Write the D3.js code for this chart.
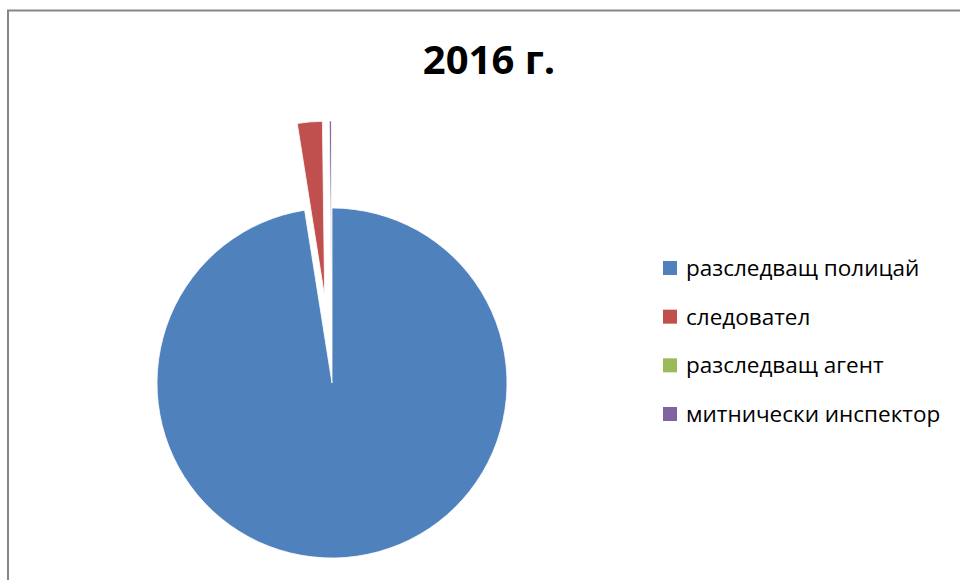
<!DOCTYPE html>
<html>
<head>
<meta charset="utf-8">
<script src="https://cdn.jsdelivr.net/npm/d3@7"></script>
<style>
  body { margin: 0; background: #fff; }
  svg { display: block; }
</style>
</head>
<body>
<div id="chart"></div>
<script>
// dades
const categories = ["разследващ полицай", "следовател", "разследващ агент", "митнически инспектор"];
const values = [97.5, 2.3, 0, 0.2];
const colors = ["#4F81BD", "#C0504D", "#9BBB59", "#8064A2"];
const explode = [0, 87, 0, 87];
const title = "2016 г.";

const width = 960, height = 580;
const cx = 332, cy = 383, radius = 175;

const svg = d3.select("#chart")
    .append("svg")
        .attr("width", width)
        .attr("height", height);

// marc del gràfic
svg.append("rect")
    .attr("x", 8)
    .attr("y", 10.5)
    .attr("width", width)
    .attr("height", height)
    .attr("fill", "none")
    .attr("stroke", "#868686")
    .attr("stroke-width", 2);

// títol
svg.append("text")
    .attr("x", 489)
    .attr("y", 74)
    .attr("text-anchor", "middle")
    .style("font-family", "'Open Sans', sans-serif")
    .style("font-weight", "bold")
    .style("font-size", "40px")
    .text(title);

const pie = d3.pie().sort(null).value(d => d.value);
const arc = d3.arc().innerRadius(0).outerRadius(radius);

const data = categories.map((c, i) => ({name: c, value: values[i], color: colors[i], explode: explode[i]}));

const g = svg.append("g")
    .attr("transform", `translate(${cx}, ${cy})`);

g.selectAll(".slice")
    .data(pie(data).filter(d => d.data.value > 0))
    .enter()
    .append("path")
        .attr("class", "slice")
        .attr("d", arc)
        .attr("transform", d => {
            const a = (d.startAngle + d.endAngle) / 2;
            return `translate(${Math.sin(a) * d.data.explode}, ${-Math.cos(a) * d.data.explode})`;
        })
        .attr("fill", d => d.data.color)
        .attr("stroke", "#fff")
        .attr("stroke-width", 0.8);

// llegenda
const y = d3.scalePoint()
    .domain(categories)
    .range([268, 414]);

const legend = svg.selectAll(".llegenda")
    .data(data)
    .enter()
    .append("g")
        .attr("class", "llegenda")
        .attr("transform", d => `translate(663, ${y(d.name)})`);

legend.append("rect")
    .attr("x", 0)
    .attr("y", -7)
    .attr("width", 14)
    .attr("height", 14)
    .attr("fill", d => d.color);

legend.append("text")
    .attr("x", 23)
    .attr("y", 8)
    .style("font-family", "'Open Sans', sans-serif")
    .style("font-size", "22.5px")
    .style("fill", "#000")
    .text(d => d.name);
</script>
</body>
</html>
